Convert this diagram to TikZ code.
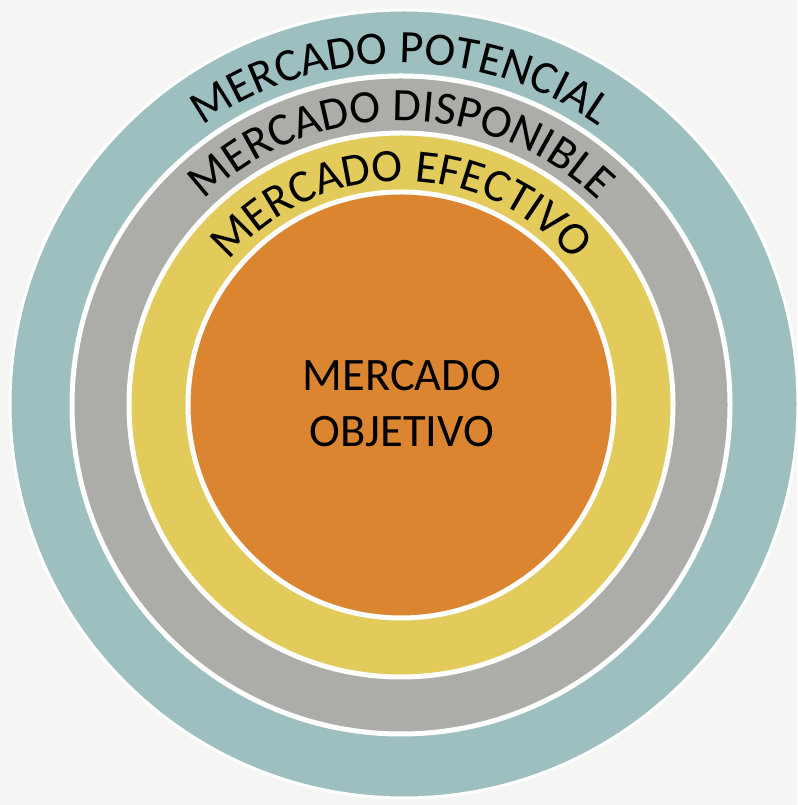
\documentclass[tikz,border=0pt]{standalone}
\usepackage{fontspec}
\setmainfont{Carlito}
\usetikzlibrary{decorations.text}
\definecolor{bgc}{HTML}{F5F5F3}
\definecolor{tealc}{HTML}{9DBFBF}
\definecolor{grayc}{HTML}{ACACA8}
\definecolor{yelc}{HTML}{E3CB5B}
\definecolor{orac}{HTML}{DC8531}
\tikzset{
  ring/.style={draw=white, line width=5pt},
  arctext/.style={decorate, decoration={text along path, text align=center,
     text={|\fontsize{46.5}{56}\selectfont|#1}}}
}
\begin{document}
\begin{tikzpicture}[x=1pt,y=1pt]
\useasboundingbox (0,0) rectangle (797,805);
\fill[bgc] (0,0) rectangle (797,805);
\coordinate (c) at (401,400);
\coordinate (ct) at (404,401);
\fill[tealc, draw=white, line width=3pt] (ct) circle[radius=394];
\fill[grayc, ring] (c) circle[radius=329];
\fill[yelc, ring] (c) circle[radius=272];
\fill[orac, ring] (c) circle[radius=213];
\path[arctext={MERCADO POTENCIAL}] (c) ++(180:342) arc[start angle=180, end angle=0, radius=342];
\path[arctext={MERCADO DISPONIBLE}] (c) ++(180:284) arc[start angle=180, end angle=0, radius=284];
\path[arctext={MERCADO EFECTIVO}] (c) ++(180:224) arc[start angle=180, end angle=0, radius=224];
\node[font=\fontsize{46.5}{56}\selectfont, align=center] (obj) at (402,401) {MERCADO\\OBJETIVO};
\end{tikzpicture}
\end{document}
